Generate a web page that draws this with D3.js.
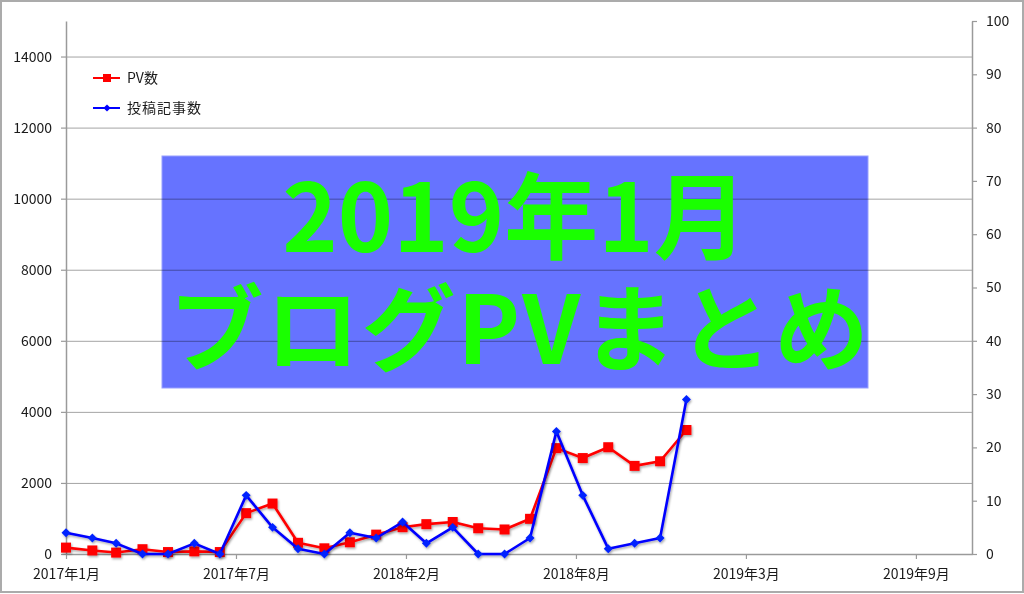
<!DOCTYPE html>
<html>
<head>
<meta charset="utf-8">
<script src="https://cdn.jsdelivr.net/npm/d3@7/dist/d3.min.js"></script>
<style>
html,body{margin:0;padding:0;background:#fff;}
svg{display:block;}
text{font-family:"Noto Sans CJK JP","Noto Sans",sans-serif;}
</style>
</head>
<body>
<svg id="chart" width="1024" height="594"></svg>
<script>
// ---- data ----
const months = ["2017-01","2017-02","2017-03","2017-04","2017-05","2017-06","2017-07","2017-08","2017-09","2017-10","2017-11","2017-12",
                "2018-01","2018-02","2018-03","2018-04","2018-05","2018-06","2018-07","2018-08","2018-09","2018-10","2018-11","2018-12",
                "2019-01"];
const pvValues   = [180, 100, 40, 135, 55, 75, 55, 1150, 1420, 315, 160, 330, 545, 755, 840, 900, 725, 690, 990, 2980, 2700, 3005, 2480, 2610, 3490];
const postValues = [4, 3, 2, 0, 0, 2, 0, 11, 5, 1, 0, 4, 3, 6, 2, 5, 0, 0, 3, 23, 11, 1, 2, 3, 29];
const seriesNames = ["PV数", "投稿記事数"];
const xTickDates = ["2017-01-01","2017-07-20","2018-02-05","2018-08-24","2019-03-12","2019-09-28"];
const xDomain = ["2017-01-01","2019-12-03"];
const leftTicks = [0, 2000, 4000, 6000, 8000, 10000, 12000, 14000];
const rightTicks = [0, 10, 20, 30, 40, 50, 60, 70, 80, 90, 100];
const titleLines = ["2019年1月", "ブログPVまとめ"];

// ---- layout ----
const svg = d3.select("#chart");
const W = 1024, H = 594;
const m = {left: 66, right: 1024 - 972, top: 21, bottom: 594 - 554};
const parseDay = d3.utcParse("%Y-%m-%d");
const parseMonth = d3.utcParse("%Y-%m");
const fmt = d3.utcFormat("%Y年%-m月");

const x = d3.scaleUtc().domain(xDomain.map(parseDay)).range([m.left, W - m.right]);
const yL = d3.scaleLinear().domain([0, 15000]).range([H - m.bottom, m.top]);
const yR = d3.scaleLinear().domain([0, 100]).range([H - m.bottom, m.top]);

const defs = svg.append("defs");
const f = defs.append("filter").attr("id","shadow").attr("x","-20%").attr("y","-20%").attr("width","140%").attr("height","140%");
f.append("feDropShadow").attr("dx",1).attr("dy",1.5).attr("stdDeviation",1.2).attr("flood-color","#000").attr("flood-opacity",0.35);

// outer frame
svg.append("rect").attr("x",1).attr("y",1).attr("width",W-2).attr("height",H-3)
  .attr("fill","#fff").attr("stroke","#ababab").attr("stroke-width",2);

// gridlines
svg.append("g").selectAll("line").data(leftTicks.filter(d => d > 0)).join("line")
  .attr("x1", m.left).attr("x2", W - m.right)
  .attr("y1", d => yL(d) + 0.5).attr("y2", d => yL(d) + 0.5)
  .attr("stroke", "#a4a4a4").attr("stroke-width", 1);

// axes
const axisStyle = g => {
  g.select(".domain").attr("stroke","#9a9a9a").attr("stroke-width",1.5);
  g.selectAll(".tick line").attr("stroke","#9a9a9a").attr("stroke-width",1.2);
  g.selectAll(".tick text").attr("fill","#1a1a1a").style("font-size","14px")
   .style("font-family",'"Noto Sans CJK JP","Noto Sans",sans-serif');
};

svg.append("g").attr("transform",`translate(${m.left},0)`)
  .call(d3.axisLeft(yL).tickValues(leftTicks).tickSize(5).tickPadding(9).tickSizeOuter(0).tickFormat(d3.format("d")))
  .call(axisStyle);

svg.append("g").attr("transform",`translate(${W - m.right},0)`)
  .call(d3.axisRight(yR).tickValues(rightTicks).tickSize(5).tickPadding(9).tickSizeOuter(0).tickFormat(d3.format("d")))
  .call(axisStyle);

svg.append("g").attr("transform",`translate(0,${H - m.bottom})`)
  .call(d3.axisBottom(x).tickValues(xTickDates.map(parseDay)).tickSize(5).tickPadding(10).tickSizeOuter(0).tickFormat(fmt))
  .call(axisStyle);

// series
const pts = months.map((mo, i) => ({d: parseMonth(mo), pv: pvValues[i], posts: postValues[i]}));
const sq = d3.symbol().type(d3.symbolSquare).size(100);
const dia = d3.symbol().type(d3.symbolSquare).size(40);

const gPV = svg.append("g").attr("filter","url(#shadow)");
gPV.append("path").datum(pts)
  .attr("fill","none").attr("stroke","#ff0000").attr("stroke-width",2.6).attr("stroke-linejoin","round")
  .attr("d", d3.line().x(d => x(d.d)).y(d => yL(d.pv)));
gPV.selectAll("path.m").data(pts).join("path").attr("class","m")
  .attr("d", sq).attr("fill","#ff0000")
  .attr("transform", d => `translate(${x(d.d)},${yL(d.pv)})`);

const gPost = svg.append("g").attr("filter","url(#shadow)");
gPost.append("path").datum(pts)
  .attr("fill","none").attr("stroke","#0000ff").attr("stroke-width",2.6).attr("stroke-linejoin","round")
  .attr("d", d3.line().x(d => x(d.d)).y(d => yR(d.posts)));
gPost.selectAll("path.m").data(pts).join("path").attr("class","m")
  .attr("d", dia).attr("fill","#0022ff")
  .attr("transform", d => `translate(${x(d.d)},${yR(d.posts)}) rotate(45)`);

// legend
const legend = svg.append("g");
const legendItems = [
  {name: seriesNames[0], color:"#ff0000", rot: 0, y: 78},
  {name: seriesNames[1], color:"#0000ff", rot: 45, y: 108}
];
legendItems.forEach(it => {
  legend.append("line").attr("x1",93).attr("x2",120).attr("y1",it.y).attr("y2",it.y)
    .attr("stroke",it.color).attr("stroke-width",2);
  legend.append("path").attr("d", d3.symbol().type(d3.symbolSquare).size(it.rot ? 26 : 64))
    .attr("fill",it.color).attr("transform",`translate(107,${it.y}) rotate(${it.rot})`);
  legend.append("text").attr("x",127).attr("y",it.y + 5).attr("fill","#1a1a1a")
    .style("font-size","14px").style("letter-spacing", it.rot ? "1px" : "0px").text(it.name);
});

// overlay banner
svg.append("rect").attr("x",162).attr("y",156).attr("width",706).attr("height",232)
  .attr("fill","#6673ff").attr("stroke","#98a0ff").attr("stroke-width",1)
  .style("mix-blend-mode","multiply");
const banner = svg.append("g");
banner.append("text").attr("x",515).attr("y",252).attr("text-anchor","middle")
  .attr("fill","#1aff00").style("font-size","94px").style("font-weight","bold").text(titleLines[0]);
banner.append("text").attr("x",520).attr("y",364).attr("text-anchor","middle")
  .attr("fill","#1aff00").style("font-size","94px").style("font-weight","bold")
  .style("letter-spacing","2px").text(titleLines[1]);
</script>
</body>
</html>
